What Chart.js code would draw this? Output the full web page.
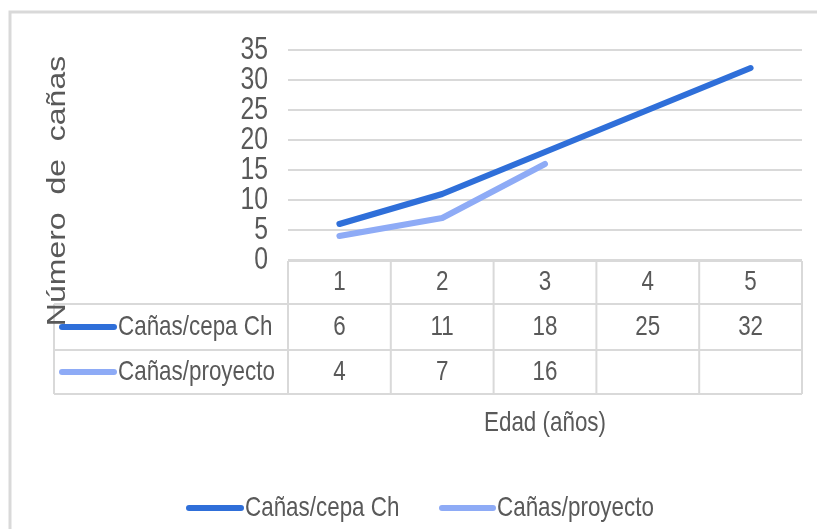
<!DOCTYPE html>
<html>
<head>
<meta charset="utf-8">
<script src="https://cdn.jsdelivr.net/npm/chart.js@4/dist/chart.umd.min.js"></script>
<style>
  html, body { margin: 0; padding: 0; background: #fff; }
  #wrap { width: 817px; height: 529px; position: relative; }
</style>
</head>
<body>
<div id="wrap"><canvas id="graphCanvas"></canvas></div>
<script>
// Data
const edades = ["1", "2", "3", "4", "5"];
const canasCepa = [6, 11, 18, 25, 32];
const canasProyecto = [4, 7, 16, null, null];
const serieNombres = ["Cañas/cepa Ch", "Cañas/proyecto"];
const serieColores = ["#2f6fd9", "#8eabf6"];
const tituloY = "Número de cañas";
const tituloX = "Edad (años)";

const gris = "#d9d9d9";
const texto = "#595959";

// draws text squeezed horizontally, like the reference picture
function squeezedText(ctx, str, x, y, align, size) {
    ctx.save();
    ctx.translate(x, y);
    ctx.scale(0.8, 1);
    ctx.font = size + "px 'Liberation Sans', Arial, sans-serif";
    ctx.fillStyle = texto;
    ctx.textAlign = align;
    ctx.textBaseline = "middle";
    ctx.fillText(str, 0, 0);
    ctx.restore();
}

function legendLine(ctx, x1, x2, y, color) {
    ctx.save();
    ctx.strokeStyle = color;
    ctx.lineWidth = 6;
    ctx.lineCap = "round";
    ctx.beginPath();
    ctx.moveTo(x1, y);
    ctx.lineTo(x2, y);
    ctx.stroke();
    ctx.restore();
}

// frame, y tick labels, data table, axis titles and legend
const tablePlugin = {
    id: "tablePlugin",
    beforeDraw(chart) {
        const ctx = chart.ctx;
        ctx.save();
        ctx.strokeStyle = gris;
        ctx.lineWidth = 3;
        ctx.beginPath();
        ctx.moveTo(10, chart.height);
        ctx.lineTo(10, 12);
        ctx.lineTo(chart.width, 12);
        ctx.stroke();
        ctx.restore();
    },
    afterDraw(chart) {
        const ctx = chart.ctx;
        const area = chart.chartArea;
        const xs = chart.scales.x;
        const ys = chart.scales.y;
        const colW = (area.right - area.left) / edades.length;
        const rows = [area.bottom + 1, area.bottom + 44, area.bottom + 90, area.bottom + 134];
        const tableLeft = 54;

        // y tick labels from the scale's own ticks
        ys.ticks.forEach((t) => {
            squeezedText(ctx, String(t.value), area.left - 20, ys.getPixelForValue(t.value), "right", 31);
        });

        ctx.save();
        ctx.strokeStyle = gris;
        ctx.lineWidth = 2;
        ctx.beginPath();
        ctx.moveTo(area.left, rows[0]); ctx.lineTo(area.right, rows[0]);
        for (let r = 1; r < rows.length; r++) {
            ctx.moveTo(tableLeft, rows[r]); ctx.lineTo(area.right, rows[r]);
        }
        ctx.moveTo(tableLeft, rows[1]); ctx.lineTo(tableLeft, rows[3]);
        for (let i = 0; i <= edades.length; i++) {
            const x = area.left + i * colW;
            ctx.moveTo(x, rows[0]); ctx.lineTo(x, rows[3]);
        }
        ctx.stroke();
        ctx.restore();

        const series = [canasCepa, canasProyecto];
        edades.forEach((lab, i) => {
            const cx = xs.getPixelForValue(i);
            squeezedText(ctx, lab, cx, (rows[0] + rows[1]) / 2, "center", 28);
            series.forEach((vals, s) => {
                if (vals[i] !== null) {
                    squeezedText(ctx, String(vals[i]), cx, (rows[s + 1] + rows[s + 2]) / 2, "center", 28);
                }
            });
        });
        series.forEach((vals, s) => {
            const cy = (rows[s + 1] + rows[s + 2]) / 2;
            legendLine(ctx, 62, 114, cy, serieColores[s]);
            squeezedText(ctx, serieNombres[s], 118, cy, "left", 28);
        });

        // x axis title
        squeezedText(ctx, tituloX, (area.left + area.right) / 2, 423, "center", 28);

        // y axis title (rotated, squeezed across the text)
        ctx.save();
        ctx.translate(58, 191);
        ctx.rotate(-Math.PI / 2);
        ctx.scale(1, 0.8);
        ctx.font = "32px 'Liberation Sans', Arial, sans-serif";
        ctx.fillStyle = texto;
        ctx.textAlign = "center";
        ctx.textBaseline = "middle";
        ctx.fillText(tituloY.replace(/ /g, "  "), 0, 0);
        ctx.restore();

        // legend
        legendLine(ctx, 189, 241, 508, serieColores[0]);
        squeezedText(ctx, serieNombres[0], 245, 508, "left", 28);
        legendLine(ctx, 442, 493, 508, serieColores[1]);
        squeezedText(ctx, serieNombres[1], 497, 508, "left", 28);
    }
};

const ctx = document.getElementById("graphCanvas").getContext("2d");
new Chart(ctx, {
    type: "line",
    data: {
        labels: edades,
        datasets: [
            {
                label: serieNombres[0],
                data: canasCepa,
                borderColor: serieColores[0],
                borderWidth: 6,
                borderCapStyle: "round",
                borderJoinStyle: "round",
                pointRadius: 0,
                fill: false
            },
            {
                label: serieNombres[1],
                data: canasProyecto,
                borderColor: serieColores[1],
                borderWidth: 6,
                borderCapStyle: "round",
                borderJoinStyle: "round",
                pointRadius: 0,
                fill: false
            }
        ]
    },
    options: {
        responsive: true,
        maintainAspectRatio: false,
        animation: false,
        layout: { padding: { top: 50, left: 10, right: 15, bottom: 0 } },
        plugins: {
            legend: { display: false },
            tooltip: { enabled: false }
        },
        scales: {
            x: {
                offset: true,
                grid: { display: false },
                border: { display: false },
                ticks: { display: false },
                afterFit: (scale) => { scale.height = 269; }
            },
            y: {
                min: 0,
                max: 35,
                ticks: { stepSize: 5, display: false },
                grid: { color: gris, lineWidth: 2, drawTicks: false },
                border: { display: false },
                afterFit: (scale) => { scale.width = 278; }
            }
        }
    },
    plugins: [tablePlugin]
});
</script>
</body>
</html>
